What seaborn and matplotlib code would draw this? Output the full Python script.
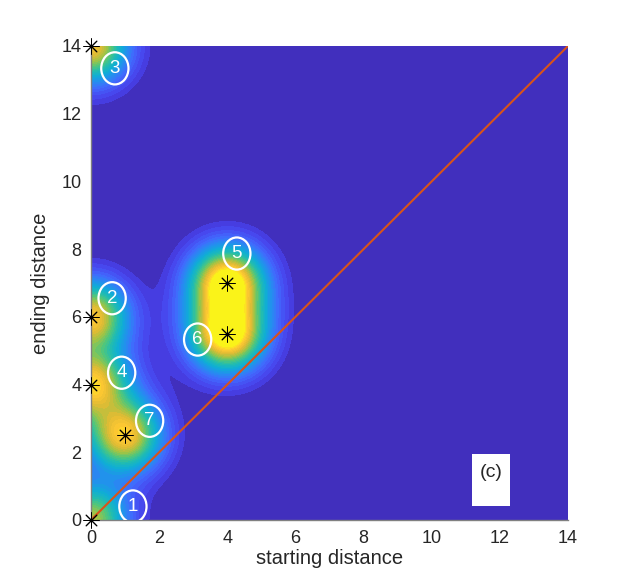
import numpy as np
import matplotlib
matplotlib.use("Agg")
import matplotlib.pyplot as plt
from matplotlib.colors import LinearSegmentedColormap
from matplotlib.patches import Rectangle, Ellipse
import seaborn as sns

# ---- data ----
star_x = [0, 0, 0, 0, 1, 4, 4]
star_y = [0, 14, 6, 4, 2.5, 7, 5.5]
star_w = [0.72, 0.85, 0.85, 0.85, 0.85, 1.05, 1.05]
label_text = ["1", "2", "3", "4", "5", "6", "7"]
label_x = [1.23, 0.62, 0.70, 0.90, 4.28, 3.13, 1.72]
label_y = [0.40, 6.55, 13.34, 4.35, 7.87, 5.33, 2.93]
diag_x = [0, 14]
diag_y = [0, 14]
ticks = [0, 2, 4, 6, 8, 10, 12, 14]
sig_narrow, sig_wide = 0.6, 0.9
mix_narrow = 0.55
color_top = 1.0

sns.set_style("white")
plt.rcParams['font.family'] = ['Liberation Sans', 'DejaVu Sans']

parula = LinearSegmentedColormap.from_list("parula", [
    (0.00, (0.2422, 0.1504, 0.6603)),
    (0.10, (0.2810, 0.2556, 0.9195)),
    (0.20, (0.2586, 0.4096, 0.9964)),
    (0.30, (0.1386, 0.5601, 0.9339)),
    (0.40, (0.0574, 0.6778, 0.8403)),
    (0.50, (0.1280, 0.7358, 0.6948)),
    (0.60, (0.3150, 0.7764, 0.4867)),
    (0.70, (0.6131, 0.7679, 0.2773)),
    (0.80, (0.8839, 0.7332, 0.2035)),
    (0.90, (0.9972, 0.7868, 0.1956)),
    (1.00, (0.9769, 0.9839, 0.0805)),
])

gx = np.linspace(0, 14, 500)
gy = np.linspace(0, 14, 500)
X, Y = np.meshgrid(gx, gy)
Z = np.zeros_like(X)
for sx, sy, w in zip(star_x, star_y, star_w):
    d2 = (X - sx) ** 2 + (Y - sy) ** 2
    k = (mix_narrow * np.exp(-d2 / (2 * sig_narrow ** 2))
         + (1 - mix_narrow) * np.exp(-d2 / (2 * sig_wide ** 2)))
    Z += w * k
Z = np.minimum(Z, color_top * 0.999)

fig = plt.figure(figsize=(6.34, 5.88), dpi=100)
ax = fig.add_axes([91/634, 1-520/588, (568-91)/634, (520-46)/588])
ax.set_facecolor(parula(0.0))
levels = np.concatenate([[0.0], np.linspace(0.07 * color_top, color_top, 30)])
cs = ax.contourf(X, Y, Z, levels=levels, cmap=parula, vmin=0, vmax=color_top)
cs.set_edgecolor("face")
cs.set_linewidth(0.6)

sns.lineplot(x=diag_x, y=diag_y, ax=ax, color="#D95319", linewidth=1.5)
sns.scatterplot(x=star_x, y=star_y, ax=ax, marker=(8, 2, 0), color="black",
                s=120, linewidth=0.7, edgecolor="black", zorder=5, clip_on=False)

for t, lx, ly in zip(label_text, label_x, label_y):
    ax.add_patch(Ellipse((lx, ly), 0.80, 0.95, facecolor="none",
                         edgecolor="white", linewidth=1.6, zorder=6))
    ax.text(lx, ly, t, color="white", fontsize=13.5, ha="center", va="center",
            zorder=7)

ax.add_patch(Rectangle((11.18, 0.42), 1.12, 1.53, facecolor="white", edgecolor="none", zorder=6))
ax.text(11.74, 1.4, "(c)", fontsize=14, ha="center", va="center", zorder=7)

ax.set_xlim(0, 14)
ax.set_ylim(0, 14)
ax.set_xticks(ticks)
ax.set_yticks(ticks)
ax.tick_params(length=0, labelsize=13, colors="#262626", pad=7)
for s in ["top", "right"]:
    ax.spines[s].set_visible(False)
for s in ["left", "bottom"]:
    ax.spines[s].set_color("#808080")
    ax.spines[s].set_linewidth(1.0)
ax.set_xlabel("starting distance", fontsize=14.5, color="#262626", labelpad=2)
ax.set_ylabel("ending distance", fontsize=14.5, color="#262626", labelpad=8)

fig.savefig("out.png", dpi=100)
